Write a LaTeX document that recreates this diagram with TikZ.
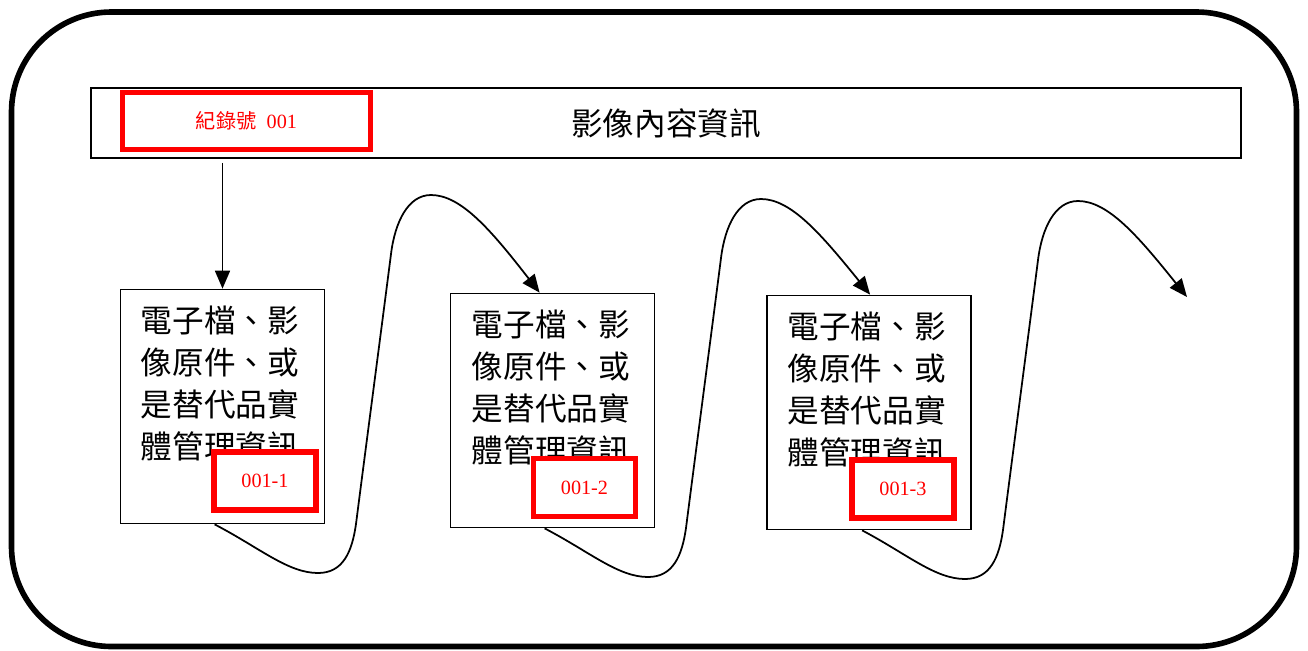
\documentclass[tikz,border=0pt]{standalone}
\usepackage{fontspec}
\setmainfont{Liberation Serif}
\newfontfamily\cjk{Noto Sans CJK TC}
\usetikzlibrary{arrows.meta}

\tikzset{
  docbox/.style={draw, line width=1pt, minimum width=4.08cm, minimum height=4.68cm, inner sep=0pt},
  doctext/.style={anchor=north west, align=left, inner sep=0pt, font=\cjk\fontsize{18}{23.8}\selectfont},
  idbox/.style={draw=red, fill=white, line width=3pt, text=red, minimum width=2.04cm, minimum height=1.16cm, inner sep=0pt, font=\fontsize{11.5}{13}\selectfont},
  flow/.style={line width=1pt, -{Triangle[width=0.3cm,length=0.36cm]}},
}

\begin{document}
\begin{tikzpicture}[x=0.02cm, y=-0.02cm]
        \useasboundingbox (0,0) rectangle (1308,650);
        \draw[line width=3.2pt, rounded corners=2cm] (11.5,12) rectangle (1296.5,646.5);
        % record header
        \node[draw, line width=1pt, minimum width=23cm, minimum height=1.4cm, font=\cjk\fontsize{18}{20}\selectfont] (bar) at (666,123) {影像內容資訊};
        \node[idbox, minimum width=4.96cm, minimum height=1.14cm] (rec) at (246.5,121) {{\cjk 紀錄號}\ \ 001};
        % items
        \node[docbox] (doc1) at (222.5,406.5) {};
        \node[docbox] (doc2) at (552.5,410.5) {};
        \node[docbox] (doc3) at (869,412.5) {};
        \node[doctext] (txt1) at ([shift={(21,17)}]doc1.north west) {電子檔、影\\像原件、或\\是替代品實\\體管理資訊};
        \node[doctext] (txt2) at ([shift={(22,17)}]doc2.north west) {電子檔、影\\像原件、或\\是替代品實\\體管理資訊};
        \node[doctext] (txt3) at ([shift={(21,17)}]doc3.north west) {電子檔、影\\像原件、或\\是替代品實\\體管理資訊};
        \node[idbox] (id1) at (265,481) {001-1};
        \node[idbox] (id2) at (584.5,487.5) {001-2};
        \node[idbox] (id3) at (903,489) {001-3};
        \coordinate (end) at (1187,297);
        % links
        \draw[flow, shorten <=0.08cm] (bar.south -| doc1.north) -- (doc1.north);
        \draw[flow] ([xshift=1.9cm]doc1.south west) .. controls (260,548) and (288,573) .. (318,573)
              .. controls (343,573) and (352,552) .. (356,524)
              .. controls (363,469) and (384,309) .. (391,254)
              .. controls (395,222) and (408,195) .. (431,195)
              .. controls (461,195) and (491,230) .. ([xshift=1.8cm]doc2.north west);
        \draw[flow] ([xshift=1.9cm]doc2.south west) .. controls (590,552) and (618,577) .. (648,577)
              .. controls (673,577) and (682,556) .. (686,528)
              .. controls (693,473) and (714,313) .. (721,258)
              .. controls (725,226) and (738,199) .. (761,199)
              .. controls (791,199) and (821,234) .. ([xshift=2.08cm]doc3.north west);
        \draw[flow] ([xshift=1.92cm]doc3.south west) .. controls (907,554) and (935,579) .. (965,579)
              .. controls (990,579) and (999,558) .. (1003,530)
              .. controls (1010,475) and (1031,315) .. (1038,260)
              .. controls (1042,228) and (1055,201) .. (1078,201)
              .. controls (1108,201) and (1138,236) .. (end);
\end{tikzpicture}
\end{document}
